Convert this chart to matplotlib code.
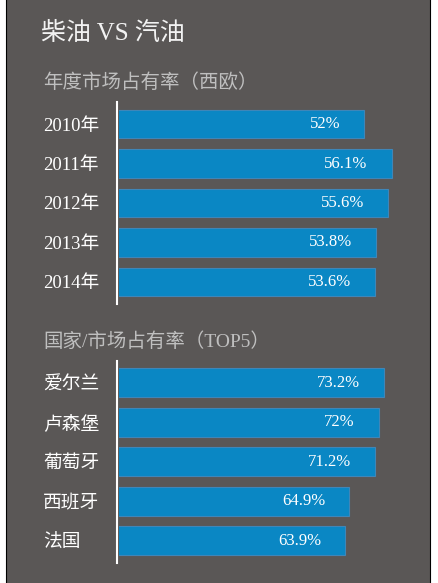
import matplotlib
matplotlib.use("Agg")
import matplotlib.pyplot as plt
from matplotlib.patches import Rectangle

FONT = ["Liberation Serif", "Noto Sans CJK SC", "DejaVu Sans"]
plt.rcParams["font.family"] = FONT

title = "柴油 VS 汽油"
subtitle_years = "年度市场占有率（西欧）"
subtitle_countries = "国家/市场占有率（TOP5）"

years = ["2010年", "2011年", "2012年", "2013年", "2014年"]
year_share = [52, 56.1, 55.6, 53.8, 53.6]

countries = ["爱尔兰", "卢森堡", "葡萄牙", "西班牙", "法国"]
country_share = [73.2, 72, 71.2, 64.9, 63.9]

BG = "#5a5756"
BAR = "#0a87c4"
BAR_EDGE = "#3f86b8"

W, H = 439, 583
fig = plt.figure(figsize=(W / 100, H / 100), dpi=100, facecolor="white")

# grey card with thin black side borders
fig.patches.append(Rectangle((6 / W, -0.01), 424 / W, 1.02, transform=fig.transFigure,
                             facecolor=BG, edgecolor="black", linewidth=0.8, zorder=-5))

fig.text(41 / W, 1 - 33 / H, title, color="#f2f2f2", fontsize=18, va="center", ha="left")
fig.text(43 / W, 1 - 83 / H, subtitle_years, color="#bfbfbf", fontsize=14, va="center", ha="left")
fig.text(43 / W, 1 - 342 / H, subtitle_countries, color="#bfbfbf", fontsize=14, va="center", ha="left")


def bar_panel(top_px, bottom_px, labels, values, xlim):
    ax = fig.add_axes([119 / W, 1 - bottom_px / H, (429 - 119) / W, (bottom_px - top_px) / H])
    ax.set_facecolor("none")
    ax.set_zorder(2)
    pos = range(len(labels))
    bars = ax.barh(pos, values, height=0.73, color=BAR, edgecolor=BAR_EDGE, linewidth=0.8)
    ax.set_xlim(*xlim)
    ax.set_ylim(len(labels) - 0.44, -0.56)
    for b, v in zip(bars, values):
        ax.annotate(f"{v:g}%", (b.get_width(), b.get_y() + b.get_height() / 2),
                    xytext=(-24, 0), textcoords="offset pixels",
                    ha="right", va="center", color="white", fontsize=12)
    for s in ["top", "right", "bottom"]:
        ax.spines[s].set_visible(False)
    ax.spines["left"].set_color("white")
    ax.spines["left"].set_linewidth(1.5)
    ax.spines["left"].set_position(("outward", 1.1))
    ax.set_xticks([])
    ax.set_yticks(list(pos))
    ax.set_yticklabels(labels, color="white", fontsize=13.5)
    ax.tick_params(axis="y", length=0, pad=53.5)
    for t in ax.get_yticklabels():
        t.set_ha("left")
    return ax


bar_panel(102, 304, years, year_share, (15.1, 61.7))
bar_panel(360.7, 563, countries, country_share, (9.6, 84.05))

fig.savefig("out.png", dpi=100, facecolor="white")
